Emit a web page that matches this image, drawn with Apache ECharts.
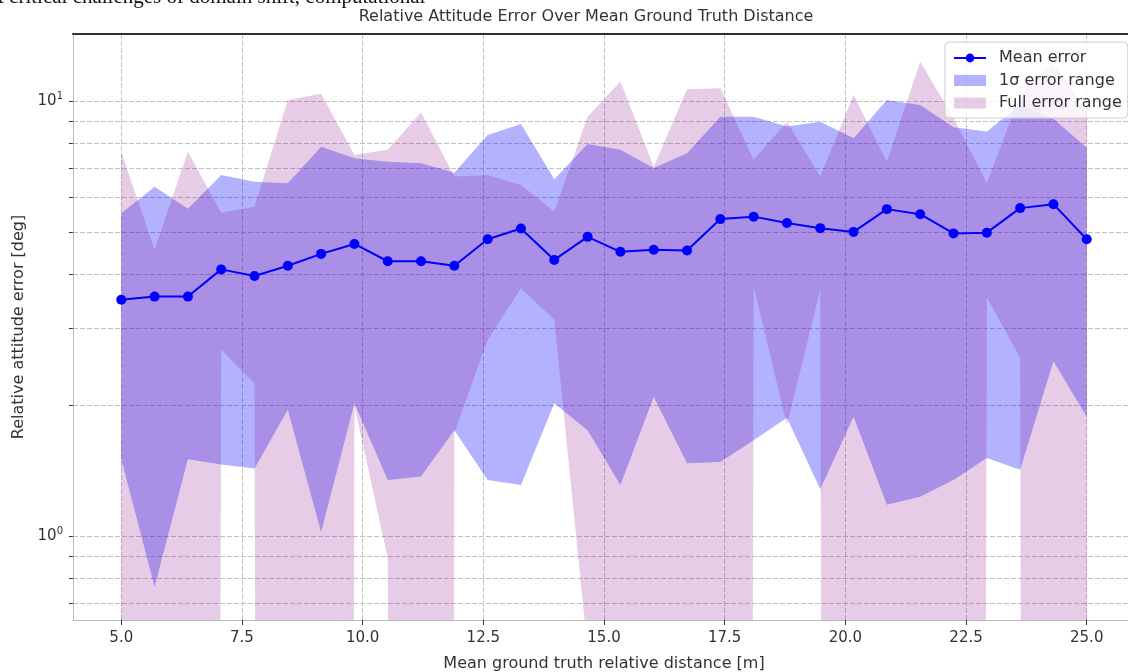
<!DOCTYPE html>
<html>
<head>
<meta charset="utf-8">
<title>Relative Attitude Error Over Mean Ground Truth Distance</title>
<script src="https://cdn.jsdelivr.net/npm/echarts@6/dist/echarts.min.js"></script>
<style>
  html, body { margin: 0; padding: 0; background: #fff; }
  #chart { width: 1128px; height: 672px; }
</style>
</head>
<body>
<div id="chart"></div>
<script>
// distance bins [m]
const distance = [5.0, 5.69, 6.38, 7.07, 7.76, 8.45, 9.14, 9.83, 10.52, 11.21, 11.9, 12.59, 13.28, 13.97, 14.66,
  15.34, 16.03, 16.72, 17.41, 18.1, 18.79, 19.48, 20.17, 20.86, 21.55, 22.24, 22.93, 23.62, 24.31, 25.0]

// errors [deg]
const meanErr = [3.49, 3.55, 3.55, 4.10, 3.96, 4.18, 4.45, 4.69, 4.28, 4.28, 4.18, 4.81, 5.09, 4.31, 4.87,
  4.50, 4.55, 4.53, 5.35, 5.42, 5.24, 5.10, 5.00, 5.64, 5.49, 4.96, 4.98, 5.67, 5.79, 4.81]
const sigmaLow = [1.50, 0.764, 1.50, 1.46, 1.43, 1.95, 1.02, 2.02, 1.345, 1.37, 1.75, 1.345, 1.31, 2.02, 1.75,
  1.31, 2.09, 1.47, 1.48, 1.66, 1.87, 1.28, 1.88, 1.18, 1.23, 1.345, 1.51, 1.42, 2.52, 1.88]
const sigmaHigh = [5.52, 6.35, 5.65, 6.76, 6.52, 6.47, 7.85, 7.38, 7.25, 7.19, 6.84, 8.35, 8.85, 6.61, 7.96,
  7.72, 7.01, 7.58, 9.20, 9.20, 8.73, 8.96, 8.21, 10.05, 9.79, 8.70, 8.50, 9.79, 9.10, 7.80]
// 0 means the smallest error in that bin was zero
const fullLow = [0, 0, 0, 2.68, 2.24, 0, 0, 1.99, 0.89, 0, 1.73, 2.82, 3.71, 3.14, 0.547,
  0, 0, 0, 0, 3.74, 1.80, 3.68, 0, 0, 0, 0, 3.54, 2.57, 0, 0]
const fullHigh = [7.64, 4.55, 7.64, 5.53, 5.71, 10.05, 10.38, 7.51, 7.72, 9.40, 6.70, 6.76, 6.41, 5.57, 9.20,
  11.08, 7.06, 10.64, 10.69, 7.32, 8.96, 6.70, 10.32, 7.25, 12.31, 9.14, 6.47, 10.32, 12.27, 9.43]

const xTicks = [5, 7.5, 10, 12.5, 15, 17.5, 20, 22.5, 25]
const yLabels = [1, 10]
const yTicks = [0.7, 0.8, 0.9, 1, 2, 3, 4, 5, 6, 7, 8, 9, 10]

const font = 'DejaVu Sans'
const textColor = '#333'
const gridLine = { color: '#c2c2c2', width: 1, type: [5, 2] }
const sigmaColor = 'rgba(0, 0, 255, 0.3)'
const fullColor = 'rgba(128, 0, 128, 0.2)'

// a log axis has no place for 0, so push it far below the plot (like matplotlib's clip)
const floorLog = v => (v > 0 ? v : 1e-30)

function bandRenderer(low, high, fill) {
  return function (params, api) {
    if (params.dataIndex !== 0) return null
    const upper = distance.map((x, i) => api.coord([x, high[i]]))
    const lower = distance.map((x, i) => api.coord([x, floorLog(low[i])])).reverse()
    return {
      type: 'polygon',
      shape: { points: upper.concat(lower) },
      style: { fill: fill },
    }
  }
}

const chart = echarts.init(document.getElementById('chart'))

chart.setOption({
  animation: false,
  textStyle: { fontFamily: font },
  grid: { left: 73, right: -7, top: 34, bottom: 52, outerBoundsMode: 'none' },
  graphic: [
    {
      // tail of the paper text above the figure, cut by the crop
      type: 'text', x: -2, y: -13, silent: true,
      style: { text: 't critical challenges of domain shift, computational', font: '21px "Liberation Serif"', fill: '#111', verticalAlign: 'top' },
    },
    {
      type: 'text', x: 586, y: 17, silent: true,
      style: { text: 'Relative Attitude Error Over Mean Ground Truth Distance', font: '16px "DejaVu Sans"', fill: textColor, align: 'center', verticalAlign: 'middle' },
    },
  ],
  legend: {
    left: 945,
    top: 42,
    orient: 'vertical',
    itemWidth: 32,
    itemHeight: 11,
    itemGap: 6.5,
    padding: [8, 6, 7, 8],
    backgroundColor: 'rgba(255,255,255,0.8)',
    borderColor: '#cccccc',
    borderWidth: 1,
    borderRadius: 4,
    textStyle: { fontFamily: font, fontSize: 16, color: textColor, padding: [0, 0, 0, 8] },
    data: [
      { name: 'Mean error' },
      { name: '1σ error range', icon: 'rect' },
      { name: 'Full error range', icon: 'rect' },
    ],
  },
  xAxis: [
    {
      type: 'value',
      min: 4,
      max: 26,
      axisLine: { show: true, onZero: false, lineStyle: { color: '#b8b8b8' } },
      axisTick: { show: true, length: 5, customValues: xTicks, lineStyle: { color: '#333' } },
      axisLabel: {
        customValues: xTicks,
        margin: 11,
        color: textColor,
        fontFamily: font,
        fontSize: 15,
        formatter: v => v.toFixed(1),
      },
      splitLine: { show: true, lineStyle: gridLine },
      name: 'Mean ground truth relative distance [m]',
      nameLocation: 'middle',
      nameGap: 36,
      nameTextStyle: { color: textColor, fontFamily: font, fontSize: 16 },
    },
    {
      // top spine only
      type: 'value',
      position: 'top',
      min: 4,
      max: 26,
      axisLine: { show: true, lineStyle: { color: '#333', width: 2 } },
      axisTick: { show: false },
      axisLabel: { show: false },
      splitLine: { show: false },
    },
  ],
  yAxis: {
    type: 'log',
    logBase: 10,
    min: 0.641,
    max: 14.25,
    axisLine: { show: true, lineStyle: { color: '#b8b8b8' } },
    axisTick: { show: true, length: 4, customValues: yTicks, lineStyle: { color: '#333' } },
    axisLabel: {
      customValues: yLabels,
      margin: 10,
      formatter: v => '{b|10}{s|' + Math.round(Math.log10(v)) + '}',
      rich: {
        b: { fontFamily: font, fontSize: 15, color: textColor },
        s: { fontFamily: font, fontSize: 10, color: textColor, padding: [0, 0, 9, 0] },
      },
    },
    splitLine: { show: true, lineStyle: gridLine },
    name: 'Relative attitude error [deg]',
    nameLocation: 'middle',
    nameGap: 43,
    nameTextStyle: { color: textColor, fontFamily: font, fontSize: 16 },
  },
  series: [
    {
      name: '1σ error range',
      type: 'custom',
      clip: true,
      z: 2,
      itemStyle: { color: sigmaColor },
      renderItem: bandRenderer(sigmaLow, sigmaHigh, sigmaColor),
      data: distance.map((x, i) => [x, meanErr[i]]),
    },
    {
      name: 'Full error range',
      type: 'custom',
      clip: true,
      z: 3,
      itemStyle: { color: fullColor },
      renderItem: bandRenderer(fullLow, fullHigh, fullColor),
      data: distance.map((x, i) => [x, meanErr[i]]),
    },
    {
      name: 'Mean error',
      type: 'line',
      z: 5,
      data: distance.map((x, i) => [x, meanErr[i]]),
      symbol: 'circle',
      symbolSize: 10,
      itemStyle: { color: '#0000ff' },
      lineStyle: { color: '#0000ff', width: 2 },
    },
  ],
})
</script>
</body>
</html>
